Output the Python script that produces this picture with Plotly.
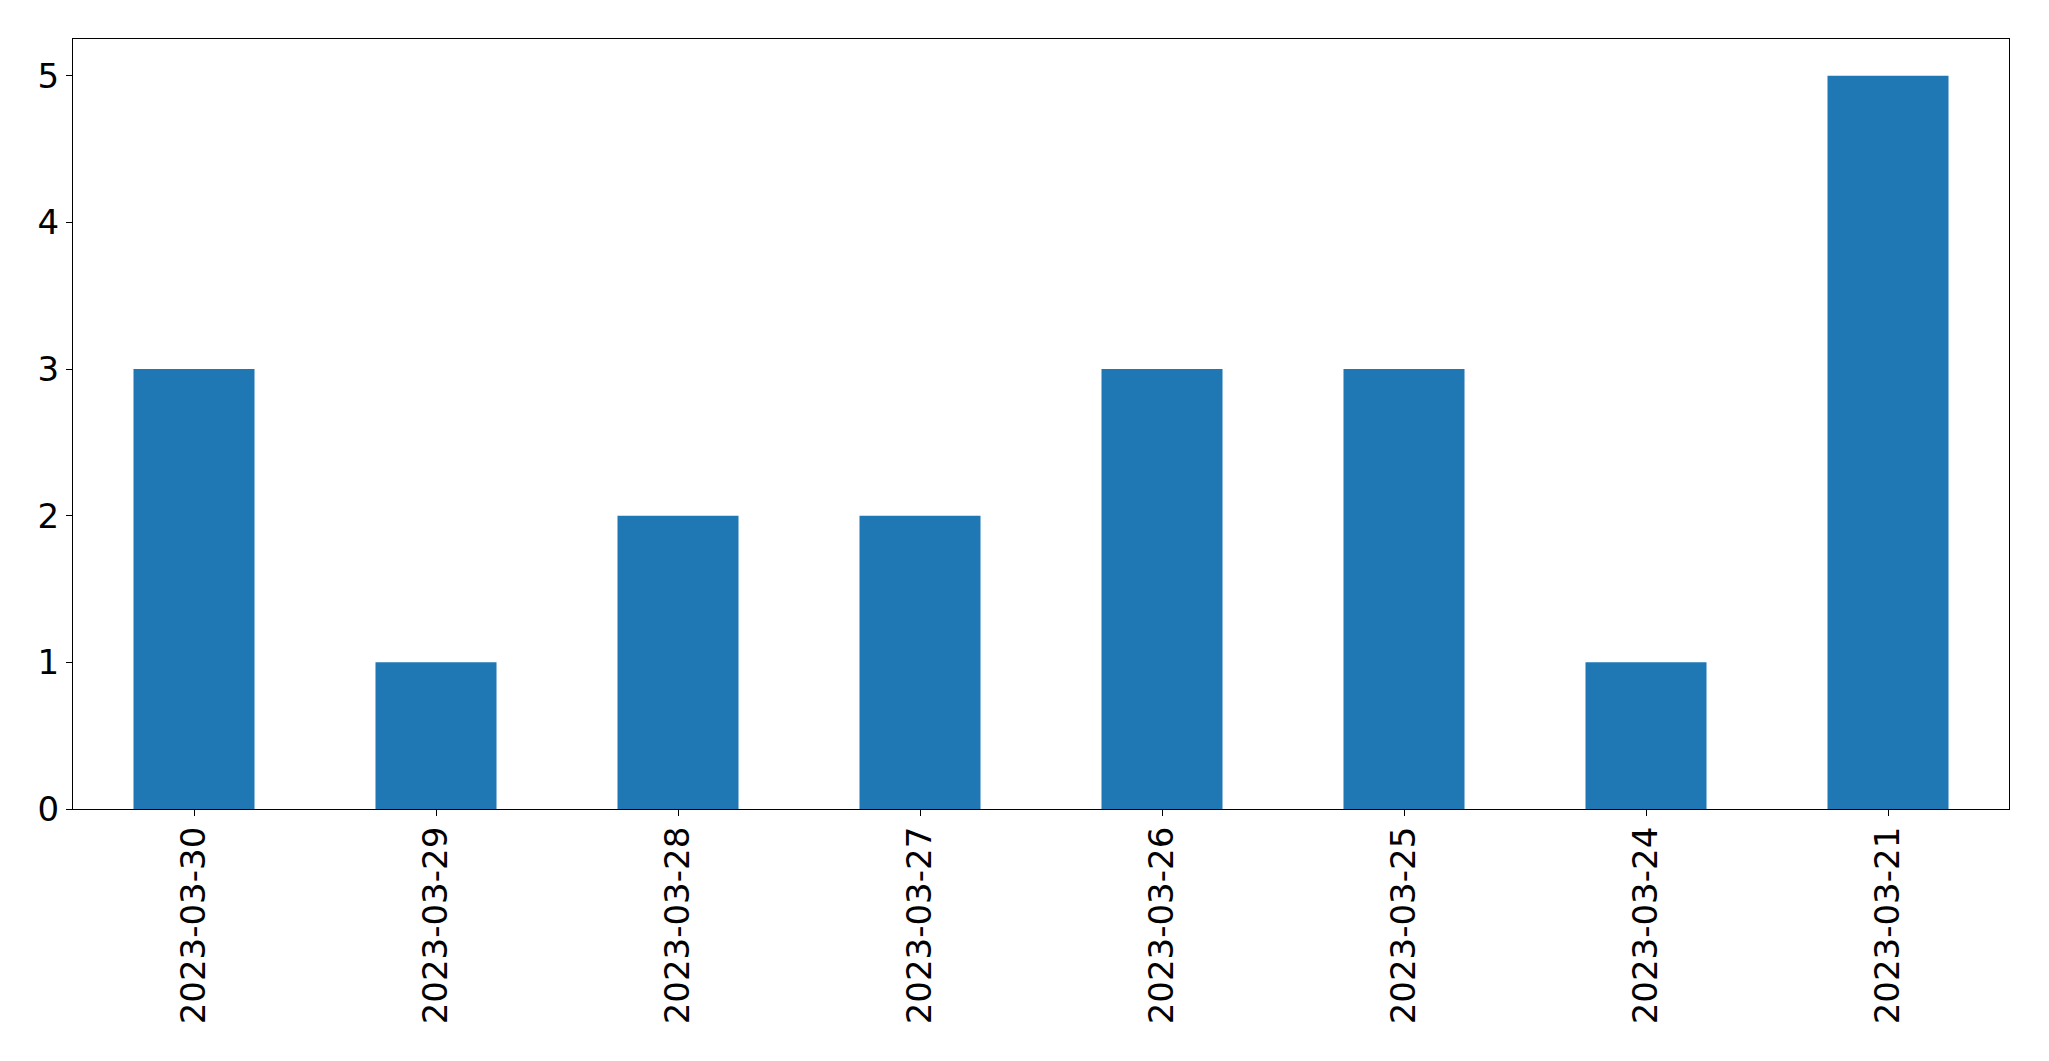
import plotly.graph_objects as go

dates = ["2023-03-30", "2023-03-29", "2023-03-28", "2023-03-27",
         "2023-03-26", "2023-03-25", "2023-03-24", "2023-03-21"]
counts = [3, 1, 2, 2, 3, 3, 1, 5]
y_ticks = [0, 1, 2, 3, 4, 5]

fig = go.Figure(go.Bar(x=dates, y=counts, width=0.5, marker_color="#1f77b4",
                       marker_line_width=0))

font = dict(family="DejaVu Sans", size=34, color="black")
fig.update_layout(
    width=2049, height=1061,
    margin=dict(l=72.5, r=40, t=39, b=252, autoexpand=False),
    plot_bgcolor="white", paper_bgcolor="white",
    showlegend=False,
    font=font,
)
fig.update_xaxes(type="category", range=[-0.5, 7.5], tickangle=-90,
                 showline=True, mirror=True, linecolor="black", linewidth=1.3,
                 ticks="outside", ticklen=6, tickwidth=1.3, tickcolor="black",
                 showgrid=False, zeroline=False, tickfont=font, automargin=False,
                 ticklabelstandoff=-3)
fig.update_yaxes(range=[0, 5.25], tickvals=y_ticks,
                 showline=True, mirror=True, linecolor="black", linewidth=1.3,
                 ticks="outside", ticklen=6, tickwidth=1.3, tickcolor="black",
                 showgrid=False, zeroline=False, tickfont=font, automargin=False)

fig.write_html("out.html")
